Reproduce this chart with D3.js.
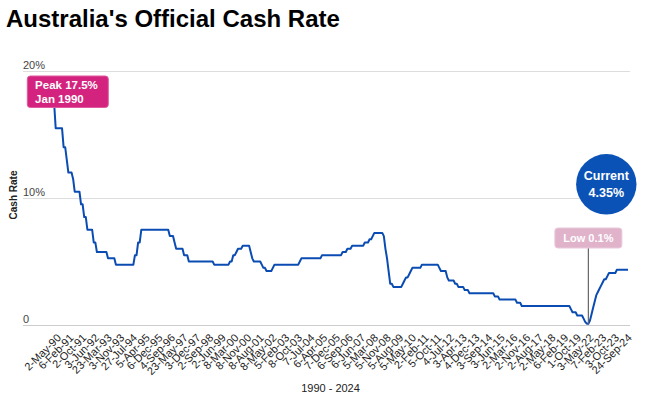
<!DOCTYPE html>
<html>
<head>
<meta charset="utf-8">
<script src="https://cdn.jsdelivr.net/npm/d3@7/dist/d3.min.js"></script>
<style>
  html, body { margin: 0; padding: 0; background: #fff; }
  svg { display: block; font-family: Arial, "Liberation Sans", sans-serif; }
</style>
</head>
<body>
<svg id="chart" width="657" height="420"></svg>
<script>
// ---- Data ----
// x categories: RBA board-meeting rows (0 = Jan 1990 ... 362 = 24-Sep-24); every 8th row is labelled
const tickLabels = ["2-May-90","6-Feb-91","2-Oct-91","3-Jun-92","23-Mar-93","3-Nov-93","27-Jul-94","5-Apr-95",
  "6-Dec-95","4-Sep-96","23-May-97","3-Dec-97","2-Sep-98","2-Jun-99","8-Mar-00","8-Nov-00","8-Aug-01",
  "8-May-02","5-Feb-03","8-Oct-03","7-Jul-04","6-Apr-05","7-Dec-05","6-Sep-06","6-Jun-07","5-Mar-08",
  "5-Nov-08","5-Aug-09","5-May-10","2-Feb-11","5-Oct-11","4-Jul-12","3-Apr-13","4-Dec-13","3-Sep-14",
  "3-Jun-15","2-Mar-16","2-Nov-16","2-Aug-17","2-May-18","6-Feb-19","1-Oct-19","3-May-22","7-Feb-23",
  "3-Oct-23","24-Sep-24"];
const firstLabelRow = 2, labelEvery = 8, lastRow = 362;

// rows at which the cash rate changed, and the new rate (%)
const changeRows  = [0, 1, 6, 8, 9, 12, 13, 17, 19, 21, 25, 27, 34, 39, 51, 53, 55, 73, 76, 77, 82, 85,
  101, 111, 113, 115, 116, 119, 124, 125, 126, 131, 132, 134, 138, 139, 155, 156, 169, 182, 185, 188,
  196, 199, 201, 202, 208, 209, 210, 211, 212, 214, 220, 221, 222, 224, 225, 226, 232, 243, 244, 248,
  249, 253, 255, 259, 262, 278, 281, 292, 295, 326, 327, 330, 334, 335, 336, 338, 339, 340, 341, 342,
  343, 344, 345, 346, 347, 349, 350, 355];
const changeRates = [17.5, 15.5, 14, 13, 12, 11.5, 10.5, 9.5, 8.5, 7.5, 6.5, 5.75, 5.25, 4.75, 5.5, 6.5, 7.5,
  7.0, 6.5, 6.0, 5.5, 5.0, 4.75, 5.0, 5.5, 5.75, 6.0, 6.25, 5.75, 5.25, 5.0, 4.75, 4.5, 4.25, 4.5, 4.75,
  5.0, 5.25, 5.5, 5.75, 6.0, 6.25, 6.5, 6.75, 7.0, 7.25, 7.0, 6.0, 5.25, 4.25, 3.25, 3.0, 3.25, 3.5, 3.75,
  4.0, 4.25, 4.5, 4.75, 4.5, 4.25, 3.75, 3.5, 3.25, 3.0, 2.75, 2.5, 2.25, 2.0, 1.75, 1.5, 1.25, 1.0, 0.75,
  0.5, 0.25, 0.1, 0.35, 0.85, 1.35, 1.85, 2.35, 2.6, 2.85, 3.1, 3.35, 3.6, 3.85, 4.1, 4.35];

const yTicks = [0, 10, 20];
const yTickLabels = ["0", "10%", "20%"];

const peak = { row: 0, rate: 17.5, lines: ["Peak 17.5%", "Jan 1990"] };
const low = { row: 337, rate: 0.1, label: "Low 0.1%" };
const current = { rate: 4.35, lines: ["Current", "4.35%"] };

// ---- Build the step series (rate held until the next change) ----
const points = [];
changeRows.forEach((r, i) => {
  if (i > 0 && r - 1 > changeRows[i - 1]) points.push([r - 1, changeRates[i - 1]]);
  points.push([r, changeRates[i]]);
});
points.push([lastRow, changeRates[changeRates.length - 1]]);

// ---- Scales ----
const svg = d3.select("#chart");
const plotLeft = 23, plotRight = 630;
const x = d3.scaleLinear().domain([0, lastRow]).range([54.1, 628]);
const y = d3.scaleLinear().domain([0, 20]).range([325, 71]);

// Title
svg.append("text").attr("x", 6).attr("y", 27)
  .attr("font-size", 24).attr("font-weight", "bold").attr("fill", "#000")
  .text("Australia's Official Cash Rate");

// Gridlines + y labels
const yAxis = d3.axisLeft(y).tickValues(yTicks).tickSize(0).tickFormat("");
const gy = svg.append("g").attr("transform", `translate(${plotLeft},0)`).call(yAxis);
gy.select(".domain").remove();
gy.selectAll(".tick").each(function (d, i) {
  const t = d3.select(this);
  t.append("line").attr("x1", 0).attr("x2", plotRight - plotLeft)
    .attr("stroke", d === 0 ? "#cccccc" : "#dddddd").attr("stroke-width", 1)
    .attr("shape-rendering", "crispEdges");
  t.append("text").attr("x", 0).attr("y", -3).attr("dy", 0)
    .attr("text-anchor", "start").attr("font-size", 11).attr("fill", "#444")
    .text(yTickLabels[yTicks.indexOf(d)]);
});

// Y axis title
svg.append("text").attr("transform", "translate(16.5,195) rotate(-90)")
  .attr("text-anchor", "middle").attr("font-size", 10).attr("font-weight", "bold").attr("fill", "#222")
  .text("Cash Rate");

// X tick labels
const tickRows = tickLabels.map((d, i) => firstLabelRow + labelEvery * i);
const xAxis = d3.axisBottom(x).tickValues(tickRows).tickSize(0)
  .tickFormat((d, i) => tickLabels[i]);
const gx = svg.append("g").attr("transform", "translate(0,325)").call(xAxis);
gx.select(".domain").remove();
gx.selectAll(".tick text")
  .attr("font-size", 11).attr("fill", "#222").attr("font-family", "Arial, 'Liberation Sans', sans-serif")
  .attr("text-anchor", "end").attr("y", 0).attr("dy", 0)
  .attr("transform", "translate(4,13.5) rotate(-45)");

// X axis title
svg.append("text").attr("x", 330.5).attr("y", 392).attr("text-anchor", "middle")
  .attr("font-size", 11).attr("fill", "#222").text("1990 - 2024");

// Line
const line = d3.line().x(d => x(d[0])).y(d => y(d[1]));
svg.append("path").datum(points).attr("d", line)
  .attr("fill", "none").attr("stroke", "#0b4cb2").attr("stroke-width", 2)
  .attr("stroke-linejoin", "round");

// Low annotation
const lx = x(low.row), ly = y(low.rate);
svg.append("line").attr("x1", lx).attr("x2", lx).attr("y1", 248).attr("y2", ly)
  .attr("stroke", "#666").attr("stroke-width", 1.2);
svg.append("rect").attr("x", lx - 33.5).attr("y", 228).attr("width", 67).attr("height", 20)
  .attr("rx", 3).attr("fill", "#e0b3cb").attr("stroke", "#e9c8da").attr("stroke-width", 1);
svg.append("text").attr("x", lx).attr("y", 241.8).attr("text-anchor", "middle")
  .attr("font-size", 11).attr("font-weight", "bold").attr("fill", "#fff").text(low.label);

// Peak annotation
const px = x(peak.row);
svg.append("rect").attr("x", px - 26.8).attr("y", 76).attr("width", 81).attr("height", 31.5)
  .attr("rx", 3).attr("fill", "#d4237e").attr("stroke", "#e05a9f").attr("stroke-width", 1);
svg.selectAll(".peakText").data(peak.lines).enter().append("text")
  .attr("x", px - 19).attr("y", (d, i) => 89 + i * 14.3)
  .attr("font-size", 11.5).attr("font-weight", "bold").attr("fill", "#fff").text(d => d);

// Current bubble
const cx = 606.3, cy = 184.3;
svg.append("circle").attr("cx", cx).attr("cy", cy).attr("r", 30.2).attr("fill", "#0b52b6");
svg.selectAll(".curText").data(current.lines).enter().append("text")
  .attr("x", cx).attr("y", (d, i) => 179.8 + i * 17.5).attr("text-anchor", "middle")
  .attr("font-size", 12.5).attr("font-weight", "bold").attr("fill", "#fff").text(d => d);
</script>
</body>
</html>
